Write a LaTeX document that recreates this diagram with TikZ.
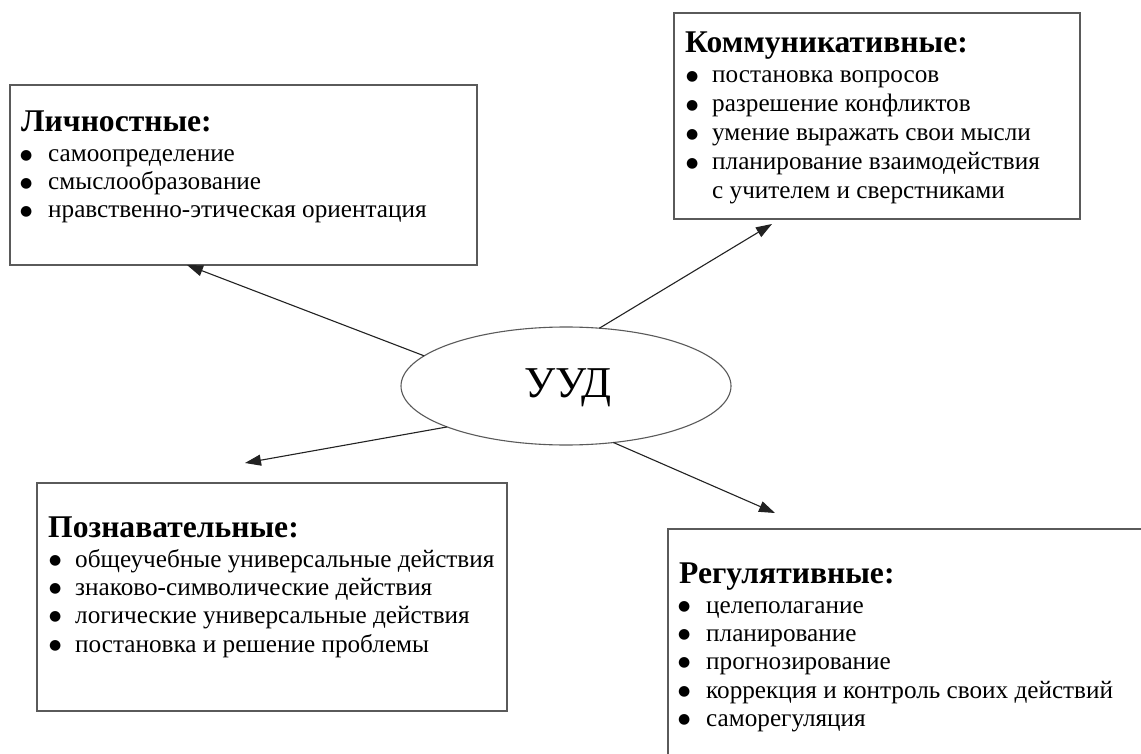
\documentclass[tikz,border=0pt]{standalone}
\usepackage{fontspec}
\setmainfont{Liberation Serif}
\newfontfamily\dvs{DejaVu Sans}
\usetikzlibrary{shapes.geometric,arrows.meta,calc}
\definecolor{boxgray}{HTML}{5A5A5A}
\definecolor{linegray}{HTML}{222222}
\begin{document}
\begin{tikzpicture}[x=1pt,y=-1pt,
  box/.style={draw=boxgray,line width=1.6pt,inner sep=0pt,outer sep=0pt,anchor=north west},
  ttl/.style={anchor=base west,inner sep=0pt,font=\bfseries\fontsize{31.6}{36}\selectfont},
  itm/.style={anchor=base west,inner sep=0pt,font=\fontsize{25.2}{28}\selectfont},
  arr/.style={draw=linegray,line width=1.1pt,-{Triangle[length=16pt,width=11pt]}},
  oval/.style={draw=boxgray,line width=1.1pt,ellipse,inner sep=0pt,outer sep=0pt}]
\newcommand\bul[4]{\node[itm] (#1) at (#2) {\makebox[#3][l]{\raisebox{2.6pt}{\dvs\fontsize{14}{14}\selectfont ●}}#4};}
\useasboundingbox (0,0) rectangle (1141,754);
\clip (0,0) rectangle (1141,754);
\fill[white] (0,0) rectangle (1141,754);

% boxes
\node[box,minimum width=467pt,minimum height=180pt] (b1) at (10,85) {};
\node[box,minimum width=406pt,minimum height=206pt] (b2) at (674,13) {};
\node[box,minimum width=470pt,minimum height=228pt] (b3) at (37,483) {};
\node[box,minimum width=500pt,minimum height=260pt] (b4) at (668,529) {};

% center
\node[oval,minimum width=330pt,minimum height=118pt] (u) at (566,386) {};
\node[anchor=base,inner sep=0pt,font=\fontsize{44}{50}\selectfont] (ut) at (568,397) {УУД};

% box 1
\node[ttl] (t1) at (21,132) {Личностные:};
\bul{i11}{20,162}{28pt}{самоопределение}
\bul{i12}{20,190}{28pt}{смыслообразование}
\bul{i13}{20,218}{28pt}{нравственно-этическая ориентация}

% box 2
\node[ttl] (t2) at (685,53) {Коммуникативные:};
\bul{i21}{686,83}{26pt}{постановка вопросов}
\bul{i22}{686,112}{26pt}{разрешение конфликтов}
\bul{i23}{686,141}{26pt}{умение выражать свои мысли}
\bul{i24}{686,170}{26pt}{планирование взаимодействия}
\node[itm] (i25) at (712,199) {с учителем и сверстниками};

% box 3
\node[ttl] (t3) at (48,537) {Познавательные:};
\bul{i31}{49,567}{26pt}{общеучебные универсальные действия}
\bul{i32}{49,595}{26pt}{знаково-символические действия}
\bul{i33}{49,623}{26pt}{логические универсальные действия}
\bul{i34}{49,652}{26pt}{постановка и решение проблемы}

% box 4
\node[ttl] (t4) at (679,583) {Регулятивные:};
\bul{i41}{678,613}{28pt}{целеполагание}
\bul{i42}{678,641}{28pt}{планирование}
\bul{i43}{678,669}{28pt}{прогнозирование}
\bul{i44}{678,698}{28pt}{коррекция и контроль своих действий}
\bul{i45}{678,726}{28pt}{саморегуляция}

% arrow ends
\coordinate (e1) at (187,265);
\coordinate (e2) at (772,224);
\coordinate (e3) at (245,463);
\coordinate (e4) at (775,513);
\draw[arr] (u.168.6) -- (e1);
\draw[arr] (u.60) -- (e2);
\draw[arr] (u.199.4) -- (e3);
\draw[arr] (u.310) -- (e4);
\end{tikzpicture}
\end{document}
